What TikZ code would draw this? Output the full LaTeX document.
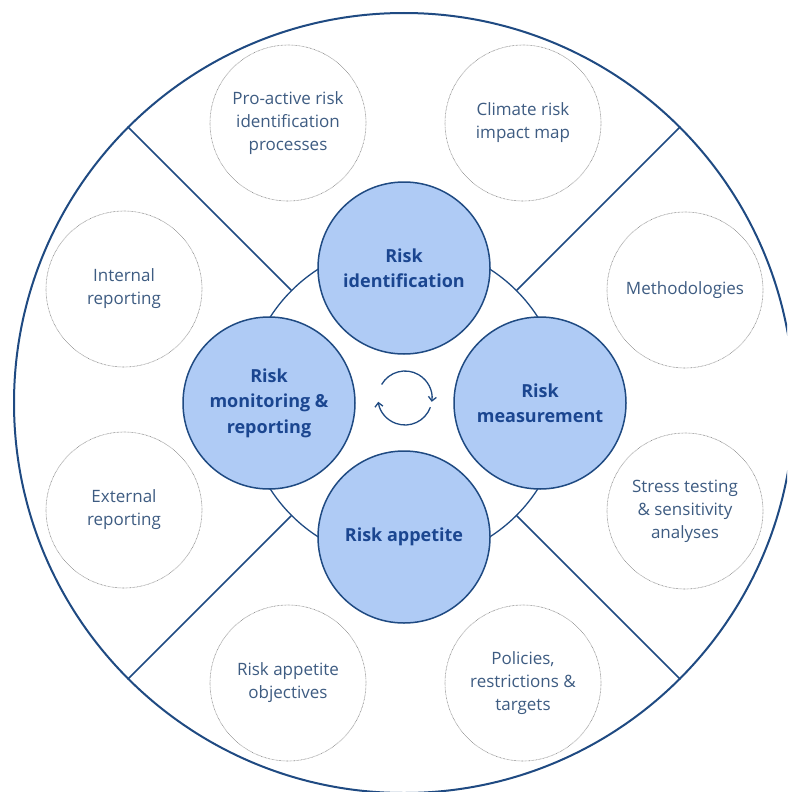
\documentclass[tikz,border=0pt]{standalone}
\usepackage{fontspec}
\setmainfont{Open Sans}
\usetikzlibrary{arrows.meta,calc}
\definecolor{navy}{HTML}{1F4A82}
\definecolor{fillblue}{HTML}{AFCBF5}
\definecolor{maintext}{HTML}{1B4690}
\definecolor{subtext}{HTML}{3E5C82}
\definecolor{dotgray}{HTML}{8A8A8A}
\begin{document}
\begin{tikzpicture}[x=1pt,y=-1pt,
  mainc/.style={circle, draw=navy, line width=1.5pt, fill=fillblue, minimum size=172pt, inner sep=0pt,
    align=center, text=maintext, font=\fontsize{18}{25.5}\selectfont\bfseries},
  subc/.style={circle, draw=dotgray, line width=0.6pt, dash pattern=on 0.7pt off 0.7pt, minimum size=156pt, inner sep=0pt,
    align=center, text=subtext, font=\fontsize{17}{23}\selectfont},
  divider/.style={draw=navy, line width=1.5pt}]
\useasboundingbox (0,0) rectangle (787,792);
\clip (0,0) rectangle (787,792);
\fill[white] (0,0) rectangle (787,792);
\coordinate (c) at (404,403);
\node[circle, draw=navy, line width=2pt, minimum size=780pt, inner sep=0pt] (outer) at (c) {};
\node[circle, draw=navy, line width=1.3pt, fill=white, minimum size=318pt, inner sep=0pt] (ring) at (c) {};
\draw[divider] (ring.45) -- (outer.45);
\draw[divider] (ring.135) -- (outer.135);
\draw[divider] (ring.225) -- (outer.225);
\draw[divider] (ring.315) -- (outer.315);
% main circles
\node[mainc] (ident) at (404,268) {Risk\\identification};
\node[mainc] (meas) at (540,403) {Risk\\measurement};
\node[mainc] (app) at (404,537) {Risk appetite};
\node[mainc] (mon) at (269,403) {Risk\\monitoring \&\\reporting};
% cycle arrows
\coordinate (cc) at (405,398);
\draw[navy, line width=1.3pt, -{Straight Barb[length=4pt,width=8pt]}]
  ($(cc)+(150:27pt)$) arc[start angle=150, end angle=-8, radius=27pt];
\draw[navy, line width=1.3pt, -{Straight Barb[length=4pt,width=8pt]}]
  ($(cc)+(-20:27pt)$) arc[start angle=-20, end angle=-172, radius=27pt];
% sub circles
\node[subc] (proact) at (288,123) {Pro-active risk\\identification\\processes};
\node[subc] (climate) at (523,123) {Climate risk\\impact map};
\node[subc] (internal) at (124,289) {Internal\\reporting};
\node[subc] (method) at (685,290) {Methodologies};
\node[subc] (external) at (124,510) {External\\reporting};
\node[subc] (stress) at (685,511) {Stress testing\\\& sensitivity\\analyses};
\node[subc] (raobj) at (288,683) {Risk appetite\\objectives};
\node[subc] (policies) at (523,683) {Policies,\\restrictions \&\\targets};
\end{tikzpicture}
\end{document}
